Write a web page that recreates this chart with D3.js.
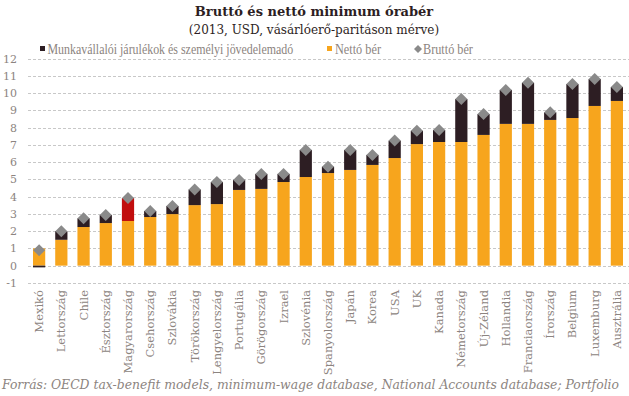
<!DOCTYPE html>
<html>
<head>
<meta charset="utf-8">
<script src="https://cdn.jsdelivr.net/npm/d3@7"></script>
<style>
  body { margin: 0; background: #fff; }
  svg { display: block; font-family: "DejaVu Serif", "Liberation Serif", serif; }
</style>
</head>
<body>
<svg id="svg1" width="629" height="396"></svg>
<script>
var countries = ['Mexikó','Lettország','Chile','Észtország','Magyarország','Csehország','Szlovákia',
    'Törökország','Lengyelország','Portugália','Görögország','Izrael','Szlovénia','Spanyolország',
    'Japán','Korea','USA','UK','Kanada','Németország','Új-Zéland','Hollandia','Franciaország',
    'Írország','Belgium','Luxemburg','Ausztrália'];

// nettó bér
var net = [1.0, 1.5, 2.24, 2.47, 2.59, 2.82, 2.99, 3.51, 3.57, 4.39, 4.45, 4.85, 5.14, 5.37,
    5.55, 5.84, 6.24, 7.05, 7.17, 7.17, 7.58, 8.22, 8.22, 8.45, 8.56, 9.26, 9.55];

// bruttó bér
var gross = [0.9, 2.0, 2.75, 2.94, 3.92, 3.17, 3.46, 4.42, 4.85, 4.97, 5.32, 5.32, 6.71, 5.74,
    6.71, 6.42, 7.25, 7.82, 7.87, 9.66, 8.79, 10.19, 10.6, 8.89, 10.53, 10.82, 10.36];

var yTicks = [-1, 0, 1, 2, 3, 4, 5, 6, 7, 8, 9, 10, 11, 12];

var legendLabels = ['Munkavállalói járulékok és személyi jövedelemadó', 'Nettó bér', 'Bruttó bér'];

var orange = '#f7a51d';
var dark = '#2d1e23';
var red = '#c10d0d';
var gray = '#8a8a8a';
var textGray = '#8c8480';

var svg = d3.select('svg');

var x = d3.scaleBand()
    .domain(countries)
    .range([28, 628])
    .paddingInner(0.45)
    .paddingOuter(0.225);

var y = d3.scaleLinear()
    .domain([-1, 12])
    .range([282.9, 58.7]);

// gridlines
svg.append('g')
    .selectAll('line')
    .data(yTicks)
    .enter()
    .append('line')
    .attr('x1', 28)
    .attr('x2', 629)
    .attr('y1', function (d) { return Math.round(y(d)) + 0.5; })
    .attr('y2', function (d) { return Math.round(y(d)) + 0.5; })
    .attr('stroke', '#c8c8c8')
    .attr('stroke-width', 1)
    .attr('stroke-dasharray', '3,2');

// y labels
svg.append('g')
    .selectAll('text')
    .data(yTicks)
    .enter()
    .append('text')
    .attr('x', 17)
    .attr('y', function (d) { return y(d) + 4; })
    .attr('text-anchor', 'end')
    .attr('font-size', 11)
    .attr('fill', textGray)
    .text(function (d) { return d; });

// net bars
svg.append('g')
    .selectAll('rect')
    .data(countries)
    .enter()
    .append('rect')
    .attr('x', function (d) { return x(d); })
    .attr('width', x.bandwidth())
    .attr('y', function (d, i) { return y(net[i]); })
    .attr('height', function (d, i) { return y(0) - y(net[i]); })
    .attr('fill', orange);

// tax bars (gross - net), negative for Mexico
svg.append('g')
    .selectAll('rect')
    .data(countries)
    .enter()
    .append('rect')
    .attr('x', function (d) { return x(d); })
    .attr('width', x.bandwidth())
    .attr('y', function (d, i) {
        var t = gross[i] - net[i];
        return t >= 0 ? y(gross[i]) : y(0);
    })
    .attr('height', function (d, i) {
        var t = gross[i] - net[i];
        return Math.abs(y(0) - y(t));
    })
    .attr('fill', function (d) { return d === 'Magyarország' ? red : dark; });

// gross diamonds
svg.append('g')
    .selectAll('path')
    .data(countries)
    .enter()
    .append('path')
    .attr('d', 'M0,-6L6,0L0,6L-6,0Z')
    .attr('transform', function (d, i) {
        return 'translate(' + (x(d) + x.bandwidth() / 2) + ',' + y(gross[i]) + ')';
    })
    .attr('fill', gray);

// x labels
svg.append('g')
    .selectAll('text')
    .data(countries)
    .enter()
    .append('text')
    .attr('transform', function (d) {
        return 'translate(' + (x(d) + x.bandwidth() / 2 + 4) + ',290) rotate(-90)';
    })
    .attr('text-anchor', 'end')
    .attr('font-size', 11.5)
    .attr('fill', textGray)
    .text(function (d) { return d; });

// title
svg.append('text')
    .attr('x', 314)
    .attr('y', 16)
    .attr('text-anchor', 'middle')
    .attr('font-size', 13)
    .attr('font-weight', 'bold')
    .attr('fill', dark)
    .text('Bruttó és nettó minimum órabér');

svg.append('text')
    .attr('x', 314)
    .attr('y', 34)
    .attr('text-anchor', 'middle')
    .attr('font-size', 12)
    .attr('fill', dark)
    .text('(2013, USD, vásárlóerő-paritáson mérve)');

// legend
var legend = svg.append('g')
    .attr('font-family', '"Liberation Serif", serif')
    .attr('font-size', 14.5)
    .attr('fill', textGray);

// squeeze each label horizontally to the width it has in the original
function legendText(label, lx, w) {
    var t = legend.append('text').text(label);
    var sx = w / t.node().getComputedTextLength();
    t.attr('transform', 'translate(' + lx + ',54) scale(' + sx + ',1)');
}

legend.append('rect').attr('x', 40).attr('y', 46).attr('width', 5).attr('height', 5).attr('fill', dark);
legendText(legendLabels[0], 47.5, 246);
legend.append('rect').attr('x', 327).attr('y', 46).attr('width', 5).attr('height', 5).attr('fill', orange);
legendText(legendLabels[1], 335, 46);
legend.append('path').attr('d', 'M0,-4L4,0L0,4L-4,0Z').attr('transform', 'translate(418,49)').attr('fill', gray);
legendText(legendLabels[2], 423, 50);

// source
svg.append('text')
    .attr('x', 2)
    .attr('y', 389)
    .attr('font-size', 12)
    .attr('font-style', 'italic')
    .attr('fill', textGray)
    .attr('textLength', 617)
    .attr('lengthAdjust', 'spacingAndGlyphs')
    .text('Forrás: OECD tax-benefit models, minimum-wage database, National Accounts database; Portfolio');
</script>
</body>
</html>
